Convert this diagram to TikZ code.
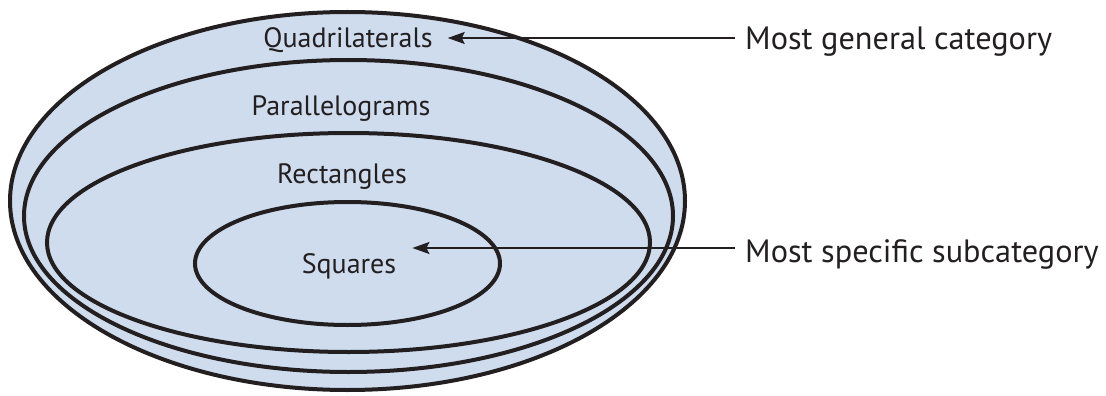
\documentclass[tikz,border=0pt]{standalone}
\usepackage{fontspec}
\setmainfont{PT Sans}
\usetikzlibrary{calc,arrows.meta}
\definecolor{setfill}{RGB}{207,220,238}
\definecolor{ink}{RGB}{35,31,32}
\tikzset{
  setring/.style={draw=ink, line width=4pt, fill=setfill},
  setlabel/.style={inner sep=0pt, text=ink, font=\fontsize{28}{32}\selectfont, anchor=base},
  notelabel/.style={inner sep=0pt, text=ink, font=\fontsize{32.3}{37}\selectfont, anchor=base west},
  pointer/.style={draw=ink, line width=2pt, -{Stealth[length=17pt,width=12pt,inset=3pt]}}
}
\begin{document}
\begin{tikzpicture}[x=1pt,y=-1pt]
  \useasboundingbox (0,0) rectangle (1106,396);
  % nested sets, outermost first
  \path[setring] (347.5,201) ellipse [x radius=337.5, y radius=189];
  \path[setring] (348.5,216) ellipse [x radius=324.5, y radius=156];
  \path[setring] (348.5,242.5) ellipse [x radius=301.5, y radius=109.5];
  \path[setring] (347.5,263.5) ellipse [x radius=152.5, y radius=61.5];
  % set names
  \node[setlabel] (quad) at (348,48) {Quadrilaterals};
  \node[setlabel] (para) at (341,115) {Parallelograms};
  \node[setlabel] (rect) at (342,183) {Rectangles};
  \node[setlabel] (squa) at (349,273) {Squares};
  % side notes
  \node[notelabel] (gen) at (745,50) {Most general category};
  \node[notelabel] (spec) at (745,262) {Most specific subcategory};
  \draw[pointer] ($(gen.base west)+(-10,-12)$) -- ($(quad.base east)+(15,-10)$);
  \draw[pointer] ($(spec.base west)+(-10,-14)$) -- ($(squa.base east)+(16,-25)$);
\end{tikzpicture}
\end{document}
